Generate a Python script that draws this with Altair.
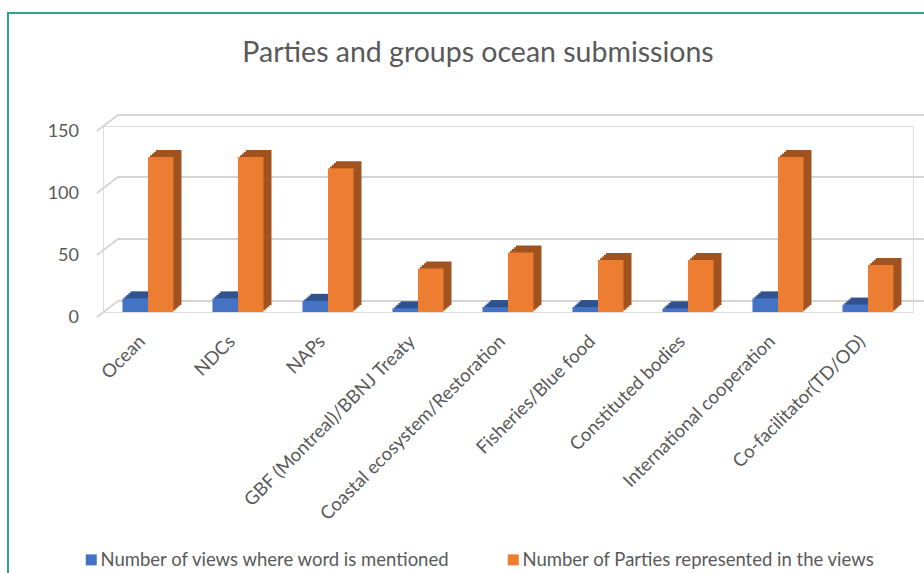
import altair as alt
import pandas as pd

categories = ["Ocean", "NDCs", "NAPs", "GBF (Montreal)/BBNJ Treaty",
              "Coastal ecosystem/Restoration", "Fisheries/Blue food",
              "Constituted bodies", "International cooperation", "Co-facilitator(TD/OD)"]
views = [11, 11, 9, 3, 4, 4, 3, 11, 6]
parties = [125, 125, 116, 35, 48, 42, 42, 125, 38]
series_names = ["Number of views where word is mentioned",
                "Number of Parties represented in the views"]
y_ticks = [0, 50, 100, 150]
title_text = "Parties and groups ocean submissions"

rows = []
for c, v, p in zip(categories, views, parties):
    rows.append({"category": c, "series": series_names[0], "value": v})
    rows.append({"category": c, "series": series_names[1], "value": p})
df = pd.DataFrame(rows)
grid_df = pd.DataFrame({"v": y_ticks})

FONT = "Lato"
GREY = "#595959"
front_colors = ["#4472C4", "#ED7D31"]
dark_colors = ["#2F528F", "#A0521F"]

W, H = 810, 186
yscale = alt.Scale(domain=[0, 150], range=[H, 0], nice=False, zero=True)
xscale = alt.Scale(domain=categories, paddingInner=0.433, paddingOuter=0.2165)

# chart border
border = alt.Chart(pd.DataFrame({"a": [0]})).mark_rect(
    fill=None, stroke="#2CA58D", strokeWidth=2
).encode(x=alt.value(-95), x2=alt.value(840), y=alt.value(-113), y2=alt.value(470))

# back gridlines
grid_back = alt.Chart(grid_df).mark_rule(color="#D4D4D4", strokeWidth=2, yOffset=-11, y2Offset=-11).encode(
    y=alt.Y("v:Q", scale=yscale, axis=None), y2="v:Q",
    x=alt.value(15), x2=alt.value(821))
grid_slant = alt.Chart(grid_df).mark_rule(color="#D4D4D4", strokeWidth=2, yOffset=5, y2Offset=-11).encode(
    y=alt.Y("v:Q", scale=yscale, axis=None), y2="v:Q",
    x=alt.value(-6), x2=alt.value(15))

ylabels = alt.Chart(grid_df).mark_text(
    font=FONT, fontSize=18, color=GREY, align="right", baseline="middle", dy=5.5
).encode(y=alt.Y("v:Q", scale=yscale, axis=None), x=alt.value(-24), text="v:Q")

xenc = alt.X("category:N", scale=xscale, sort=categories, title=None,
             axis=alt.Axis(labelAngle=315, labelAlign="right", labelBaseline="middle",
                           labelFont=FONT, labelFontSize=18.5, labelColor=GREY,
                           labelPadding=26, labelOffset=-6, domain=False, ticks=False,
                           labelLimit=400))

# stepped extrusion layers to mimic the 3-D depth of the columns
dark_layers = []
for step in [1, 2, 3, 4]:
    sx = 2 * step
    sy = -1.75 * step
    dark_layers.append(
        alt.Chart(df).mark_bar(yOffset=sy).encode(
            x=xenc,
            xOffset=alt.XOffset("series:N", sort=series_names,
                                scale=alt.Scale(range=[sx, 51 + sx])),
            y=alt.Y("value:Q", scale=yscale, axis=None),
            color=alt.Color("series:N", scale=alt.Scale(domain=series_names, range=dark_colors),
                            legend=None),
        )
    )

bars_front = alt.Chart(df).mark_bar().encode(
    x=xenc,
    xOffset=alt.XOffset("series:N", sort=series_names, scale=alt.Scale(range=[0, 51])),
    y=alt.Y("value:Q", scale=yscale, axis=None),
    fill=alt.Fill("series:N", scale=alt.Scale(domain=series_names, range=front_colors),
                  legend=alt.Legend(title=None, orient="none", legendX=-21, legendY=424.5,
                                    direction="horizontal", symbolType="square", symbolSize=121,
                                    symbolStrokeWidth=0, labelFont=FONT, labelFontSize=18.5,
                                    labelColor=GREY, columnPadding=53, labelLimit=600,
                                    padding=0, labelOffset=0)),
)

title = alt.Chart(pd.DataFrame({"t": [title_text]})).mark_text(
    font=FONT, fontSize=28.5, color=GREY, align="center", baseline="middle"
).encode(x=alt.value(375), y=alt.value(-73), text="t:N")

chart = alt.layer(border, grid_back, grid_slant, ylabels, *dark_layers, bars_front, title).resolve_scale(
    color="independent", fill="independent", xOffset="independent"
).properties(
    width=W, height=H,
    autosize=alt.AutoSizeParams(type="none"),
    padding={"left": 103, "top": 126, "right": 11, "bottom": 261},
).configure_view(stroke=None).configure(background="white")

chart.save("out.html", embed_options={"renderer": "svg", "actions": False})
